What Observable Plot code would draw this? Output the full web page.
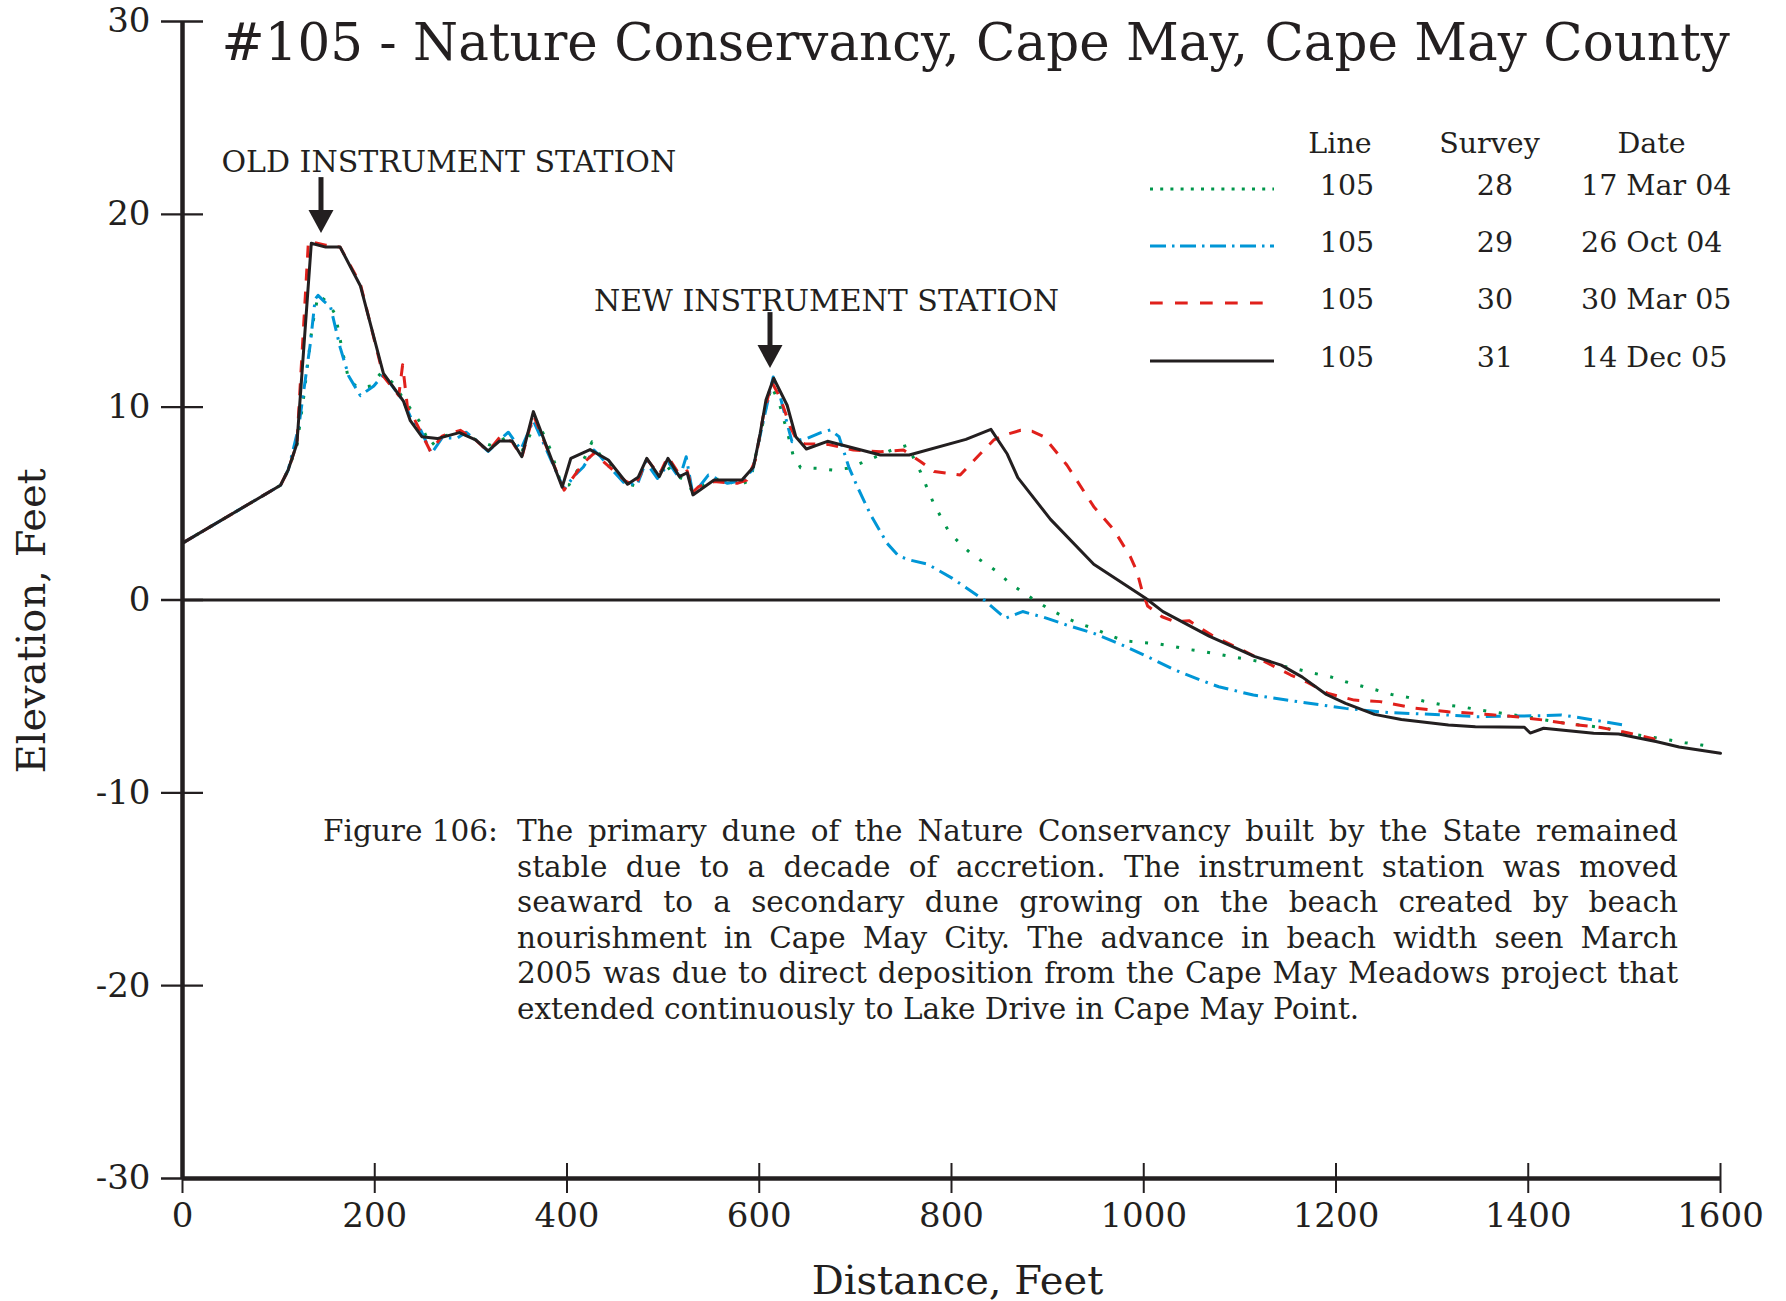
<!DOCTYPE html>
<html><head><meta charset="utf-8">
<script src="https://cdn.jsdelivr.net/npm/d3@7"></script>
<script src="https://cdn.jsdelivr.net/npm/@observablehq/plot@0.6"></script>
<style>
html,body{margin:0;padding:0;background:#fff;overflow:hidden;}
#wrap{position:relative;width:1786px;height:1301px;font-family:'DejaVu Serif',serif;color:#231f20;}
#wrap > svg{position:absolute;left:0;top:0;}
.cap{position:absolute;font-size:29.5px;line-height:35.5px;white-space:nowrap;}
.cap .l{width:1161px;text-align:justify;text-align-last:justify;}
.cap .l.last{text-align:left;text-align-last:left;}
</style></head>
<body><div id="wrap"></div>
<script>
const ink = "#231f20";
const title = "#105 - Nature Conservancy, Cape May, Cape May County";
const xLabel = "Distance, Feet";
const yLabel = "Elevation, Feet";
const xTicks = [0, 200, 400, 600, 800, 1000, 1200, 1400, 1600];
const yTicks = [-30, -20, -10, 0, 10, 20, 30];

const legendHeaders = ["Line", "Survey", "Date"];
const lineIds = [105, 105, 105, 105];
const surveys = [28, 29, 30, 31];
const dates = ["17 Mar 04", "26 Oct 04", "30 Mar 05", "14 Dec 05"];
const colors = ["#00964b", "#0096d6", "#e0201b", "#231f20"];

// Survey 28 – 17 Mar 04 (green dotted)
const dist28 = [0,102,110,119,126,135,141,147,152,159,166,173,183,196,206,218,229,246,258,270,294,305,322,339,352,369,383,394,402,419,426,436,446,459,472,483,494,502,511,523,531,549,565,577,591,596,601,607,613,622,631,635,643,660,676,692,707,723,738,754,768,774,781,789,797,808,820,834,848,860,874,887,902,917,932,948,964,979,996,1012,1029,1046,1063,1079,1095,1112,1128,1144,1161,1177,1194,1210,1242,1258,1275,1291,1308,1325,1332,1348,1365,1381,1398,1414,1432,1448,1465,1482,1498,1514,1531,1547,1563,1580,1590];
const elev28 = [2.95,5.95,6.75,8.0,10.5,14.2,15.8,15.6,15.4,14.8,13.0,11.4,11.0,11.1,11.75,11.3,10.5,9.3,8.0,8.5,8.7,8.3,8.0,8.5,7.6,9.33,7.78,6.0,5.96,7.44,8.2,7.4,7.0,6.1,5.9,7.3,6.3,7.1,6.48,6.22,5.6,6.22,6.31,5.9,6.22,7.43,8.47,10.0,11.1,10.0,8.36,7.55,6.86,6.83,6.74,6.83,7.12,7.46,7.78,8.02,6.62,5.88,5.06,4.3,3.57,2.97,2.42,1.93,1.45,0.9,0.41,-0.03,-0.48,-0.87,-1.21,-1.47,-1.82,-2.11,-2.2,-2.25,-2.39,-2.56,-2.68,-2.82,-2.97,-3.11,-3.28,-3.42,-3.6,-3.8,-3.98,-4.24,-4.67,-4.9,-5.05,-5.24,-5.41,-5.5,-5.55,-5.69,-5.82,-5.93,-6.05,-6.19,-6.34,-6.45,-6.54,-6.66,-6.85,-7.0,-7.13,-7.26,-7.4,-7.52,-7.6];

// Survey 29 – 26 Oct 04 (blue dash-dot)
const dist29 = [0,102,110,121,126,133,138,141,147,154,164,173,185,199,209,230,238,248,259,270,286,295,305,318,330,339,352,365,397,407,417,428,435,444,459,473,482,494,506,517,524,531,547,567,582,593,603,614.5,622,629,634,650,664,674,683,693,702,716,733,745,757,775,801,834,856,874,896,920,948,976,1004,1031,1059,1078,1114,1160,1210,1255,1315,1347,1381,1414,1434,1447,1468,1503];
const elev29 = [2.95,5.95,6.75,9.0,10.8,13.3,15.6,15.8,15.5,15.2,13.1,11.6,10.6,11.1,11.7,10.3,9.4,8.8,7.6,8.4,8.4,8.7,8.3,7.7,8.3,8.7,7.8,9.3,5.75,6.4,6.9,7.78,7.43,6.9,6.1,5.96,7.17,6.3,7.1,6.3,7.43,5.45,6.48,6.05,6.2,6.74,9.0,11.56,10.5,9.16,8.21,8.39,8.68,8.82,8.47,6.92,5.88,4.41,2.94,2.28,2.07,1.86,1.12,0.0,-0.95,-0.6,-0.9,-1.3,-1.73,-2.3,-2.94,-3.6,-4.15,-4.5,-4.93,-5.27,-5.62,-5.84,-5.96,-6.05,-6.02,-6.0,-5.96,-6.05,-6.22,-6.51];

// Survey 30 – 30 Mar 05 (red dashed)
const dist30 = [0,102,110,119,131,149,164,185,209,225,229,234,241,258,270,289,305,318,331,343,353,365,397,417,428,442,460,471,483,496,505,517,525,531,537,553,577,587,596,604,613,622,632,639,647,671,698,726,750,768,782,809,827,844,858,872,884,896,920,948,969,986,993,998,1004,1019,1033,1047,1073,1101,1128,1153,1169,1192,1219,1246,1281,1317,1341,1362,1390,1420,1445,1474,1502,1535];
const elev30 = [2.95,5.95,6.75,8.1,18.6,18.4,18.3,16.4,11.6,10.6,12.2,10.0,9.4,7.7,8.5,8.8,8.3,7.7,8.5,8.2,7.4,9.6,5.7,7.1,7.6,7.0,6.2,5.9,7.3,6.5,7.43,6.5,6.7,5.6,5.88,6.14,6.05,6.22,7.26,9.5,11.3,10.46,9.0,8.3,8.1,8.07,7.78,7.69,7.78,7.17,6.66,6.48,7.43,8.3,8.6,8.8,8.75,8.47,7.0,4.84,3.63,2.25,1.47,0.52,-0.31,-0.87,-1.13,-1.07,-1.9,-2.56,-3.25,-3.89,-4.24,-4.85,-5.19,-5.27,-5.6,-5.8,-5.87,-5.95,-6.07,-6.25,-6.45,-6.6,-6.87,-7.25];

// Survey 31 – 14 Dec 05 (black solid)
const dist31 = [0,102,110,119,134,149,164,185,209,230,237,249,265,288,305,318,330,343,353,365,395,404,424,443,463,474,483,496,505,517,525,531,553,582,594,601,607,615,629,638,649,671,726,756,815,841,858,869,903,948,1002,1020,1068,1115,1143,1165,1190,1210,1240,1268,1317,1345,1396,1402,1416,1468,1494,1534,1557,1600];
const elev31 = [2.95,5.95,6.75,8.1,18.5,18.3,18.3,16.3,11.75,10.3,9.3,8.47,8.37,8.68,8.3,7.73,8.25,8.25,7.43,9.77,5.85,7.35,7.8,7.26,6.0,6.36,7.35,6.4,7.35,6.4,6.6,5.45,6.22,6.22,6.9,8.65,10.37,11.5,10.1,8.47,7.83,8.23,7.52,7.52,8.33,8.85,7.57,6.35,4.18,1.85,0.09,-0.6,-1.87,-2.92,-3.38,-4.0,-4.9,-5.36,-5.93,-6.2,-6.48,-6.57,-6.6,-6.9,-6.65,-6.91,-6.95,-7.35,-7.62,-7.95];

const stations = [
  {label: "OLD INSTRUMENT STATION", x: 144.6, y: 19.0},
  {label: "NEW INSTRUMENT STATION", x: 611.7, y: 12.0}
];

const captionLabel = "Figure 106:";
const captionLines = [
  "The primary dune of the Nature Conservancy built by the State remained",
  "stable due to a decade of accretion. The instrument station was moved",
  "seaward to a secondary dune growing on the beach created by beach",
  "nourishment in Cape May City. The advance in beach width seen March",
  "2005 was due to direct deposition from the Cape May Meadows project that",
  "extended continuously to Lake Drive in Cape May Point."
];

const seriesList = [
  {survey: 28, dist: dist28, elev: elev28, dash: "3,12.7", legendDash: "3,7.2"},
  {survey: 29, dist: dist29, elev: elev29, dash: "15,6.5,2.5,6.5", legendDash: "16,6,2.5,5.5"},
  {survey: 30, dist: dist30, elev: elev30, dash: "12,11", legendDash: "12.7,12.3"},
  {survey: 31, dist: dist31, elev: elev31, dash: null, legendDash: null}
];

const lineMarks = seriesList.map((s, k) => Plot.line(
  s.dist.map((d, i) => ({x: d, y: s.elev[i]})),
  {x: "x", y: "y", stroke: colors[k], strokeWidth: 3,
   strokeDasharray: s.dash || undefined,
   strokeLinecap: s.dash ? "butt" : "round", strokeLinejoin: "round"}
));

// filled arrows pointing at the stations, drawn through the plot's scales
const arrowMark = (index, scales) => {
  const g = d3.create("svg:g").attr("fill", ink).attr("stroke", ink);
  for (const d of stations) {
    const X = scales.x(d.x), Y = scales.y(d.y);
    g.append("line").attr("x1", X).attr("x2", X).attr("y1", Y - 56).attr("y2", Y - 20)
      .attr("stroke-width", 5);
    g.append("path").attr("stroke", "none")
      .attr("d", `M${X - 12.5},${Y - 23}L${X + 12.5},${Y - 23}L${X},${Y}Z`);
  }
  return g.node();
};

const chart = Plot.plot({
  width: 1786, height: 1301,
  marginLeft: 182, marginRight: 66, marginTop: 21, marginBottom: 123,
  x: {domain: [0, 1600]},
  y: {domain: [-30, 30]},
  style: {fontFamily: "'DejaVu Serif', serif", fontSize: "34px", color: ink, background: "white", overflow: "visible"},
  marks: [
    Plot.axisY(yTicks, {anchor: "left", tickSize: 42, dx: 21, fill: "none", stroke: ink, strokeWidth: 2.3, label: null}),
    Plot.axisY(yTicks, {anchor: "left", tickSize: 0, tickPadding: 32, fontSize: 34, fill: ink, label: null, tickFormat: d => String(d)}),
    Plot.axisX(xTicks, {anchor: "bottom", tickSize: 30, dy: -15, fill: "none", stroke: ink, strokeWidth: 2, label: null}),
    Plot.axisX(xTicks, {anchor: "bottom", tickSize: 0, tickPadding: 24, fontSize: 34, fill: ink, label: null, tickFormat: d => String(d)}),
    Plot.ruleY([0], {stroke: ink, strokeWidth: 3}),
    ...lineMarks,
    Plot.ruleX([0], {stroke: ink, strokeWidth: 4.5}),
    Plot.ruleY([-30], {stroke: ink, strokeWidth: 4.5}),
    arrowMark,
    Plot.text([stations[0]], {x: "x", y: "y", text: "label", textAnchor: "start", lineAnchor: "bottom", dx: -100, dy: -61.6, fontSize: 30, fill: ink}),
    Plot.text([stations[1]], {x: "x", y: "y", text: "label", textAnchor: "start", lineAnchor: "bottom", dx: -176.6, dy: -57.3, fontSize: 30, fill: ink}),
    Plot.text([title], {frameAnchor: "top-left", text: d => d, textAnchor: "start", lineAnchor: "bottom", dx: 39, dy: 38, fontSize: 51.5, fill: ink}),
    Plot.text([xLabel], {frameAnchor: "bottom", text: d => d, textAnchor: "middle", lineAnchor: "bottom", dx: 6, dy: 115, fontSize: 40, fill: ink}),
    Plot.text([yLabel], {frameAnchor: "left", text: d => d, rotate: -90, textAnchor: "middle", lineAnchor: "bottom", dx: -138, dy: 21, fontSize: 40, fill: ink})
  ]
});

const wrap = document.getElementById("wrap");
wrap.appendChild(chart);

// Legend table
const leg = d3.select(wrap).append("svg")
  .attr("width", 1786).attr("height", 1301)
  .style("pointer-events", "none")
  .attr("font-family", "'DejaVu Serif', serif").attr("font-size", 28.5).attr("fill", ink);
const headX = [1340, 1489.5, 1651.6];
legendHeaders.forEach((h, i) => leg.append("text").attr("x", headX[i]).attr("y", 152.7).attr("text-anchor", "middle").text(h));
const rowY = [195, 252, 309, 367];
seriesList.forEach((s, k) => {
  const y = rowY[k];
  const ln = leg.append("line").attr("x1", 1150).attr("x2", 1274).attr("y1", y - 6).attr("y2", y - 6)
    .attr("stroke", colors[k]).attr("stroke-width", 3);
  if (s.legendDash) ln.attr("stroke-dasharray", s.legendDash);
  leg.append("text").attr("x", 1347).attr("y", y).attr("text-anchor", "middle").text(lineIds[k]);
  leg.append("text").attr("x", 1495).attr("y", y).attr("text-anchor", "middle").text(surveys[k]);
  leg.append("text").attr("x", 1581).attr("y", y).attr("text-anchor", "start").text(dates[k]);
});

// Caption
const lab = document.createElement("div");
lab.className = "cap"; lab.style.left = "323px"; lab.style.top = "814px";
lab.textContent = captionLabel;
wrap.appendChild(lab);
const body = document.createElement("div");
body.className = "cap"; body.style.left = "517px"; body.style.top = "814px";
captionLines.forEach((t, i) => {
  const d = document.createElement("div");
  d.className = "l" + (i === captionLines.length - 1 ? " last" : "");
  d.textContent = t;
  body.appendChild(d);
});
wrap.appendChild(body);
</script>
</body></html>
